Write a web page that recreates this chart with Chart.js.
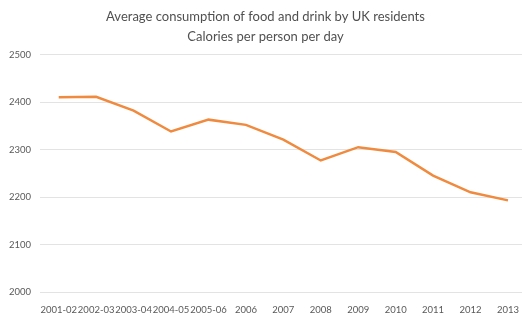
<!DOCTYPE html>
<html>
<head>
<meta charset="utf-8">
<script src="https://cdn.jsdelivr.net/npm/chart.js@4"></script>
<style>
    html, body { margin: 0; padding: 0; background: #ffffff; overflow: hidden; }
    #wrap { width: 522px; height: 317px; overflow: hidden; }
</style>
</head>
<body>
<div id="wrap"><canvas id="calChart" width="531" height="317"></canvas></div>
<script>
// Data
const years = ['2001-02', '2002-03', '2003-04', '2004-05', '2005-06', '2006', '2007',
    '2008', '2009', '2010', '2011', '2012', '2013'];
const calories = [2410, 2411, 2382, 2338, 2363, 2352, 2321, 2277, 2305, 2295, 2245, 2210, 2193];
const titleLines = ['Average consumption of food and drink by UK residents', 'Calories per person per day'];

const fontFamily = "Lato, 'Open Sans', sans-serif";
const textGrey = '#595959';

const ctx = document.getElementById('calChart').getContext('2d');
new Chart(ctx, {
    type: 'line',
    data: {
        labels: years,
        datasets: [{
            label: 'Calories',
            data: calories,
            borderColor: '#f08a3e',
            borderWidth: 2.5,
            pointRadius: 0,
            tension: 0,
            fill: false
        }]
    },
    options: {
        responsive: false,
        animation: false,
        layout: { padding: 0 },
        plugins: {
            legend: { display: false },
            tooltip: { enabled: false },
            title: {
                display: true,
                text: titleLines,
                color: '#505050',
                font: { family: fontFamily, size: 13, weight: 'normal', lineHeight: 1.6 },
                padding: { top: 6, bottom: 7 }
            }
        },
        scales: {
            x: {
                offset: true,
                grid: { display: false, drawTicks: false },
                border: { display: false },
                ticks: {
                    color: textGrey,
                    font: { family: fontFamily, size: 9.5 },
                    padding: 12,
                    maxRotation: 0,
                    autoSkip: false
                },
                afterFit: (scale) => { scale.height = 25; }
            },
            y: {
                min: 2000,
                max: 2500,
                ticks: {
                    stepSize: 100,
                    color: textGrey,
                    font: { family: fontFamily, size: 9.5 },
                    padding: 9,
                    callback: (v) => String(v)
                },
                grid: { color: '#e3e3e3', lineWidth: 1, drawTicks: false },
                border: { display: false },
                afterFit: (scale) => { scale.width = 40; }
            }
        }
    }
});
</script>
</body>
</html>
